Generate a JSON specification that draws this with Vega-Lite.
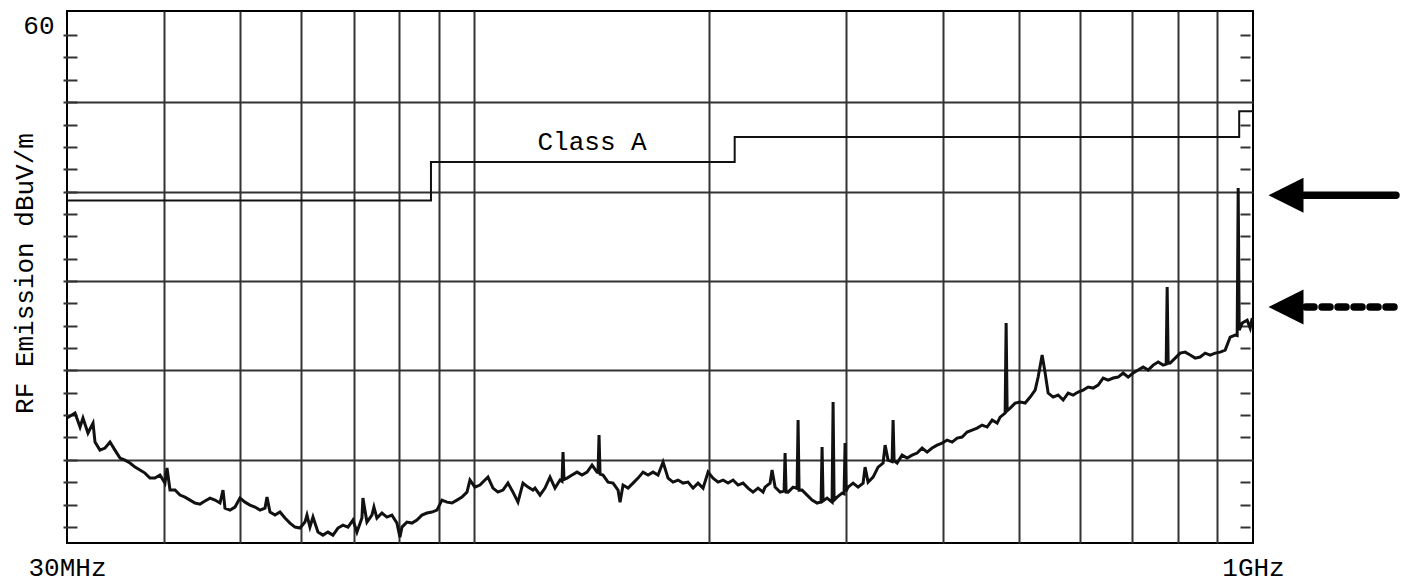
{
  "$schema": "https://vega.github.io/schema/vega-lite/v6.json",
  "width": 1186,
  "height": 532,
  "autosize": "none",
  "padding": {"left": 67, "top": 11, "right": 150, "bottom": 40},
  "background": "white",
  "config": {
    "view": {"stroke": "black", "strokeWidth": 2},
    "font": "Liberation Mono"
  },
  "datasets": {
    "trace": [
      {"f":30.0,"v":14.67},{"f":30.72,"v":15.23},{"f":31.18,"v":13.67},{"f":31.45,"v":14.67},{"f":31.92,"v":13.0},{"f":32.40,"v":14.11},{"f":32.59,"v":11.99},{"f":33.07,"v":11.09},{"f":33.57,"v":11.32},{"f":34.07,"v":11.99},{"f":34.57,"v":11.09},{"f":35.09,"v":10.2},{"f":35.61,"v":9.97},{"f":36.14,"v":9.64},{"f":36.68,"v":9.19},{"f":37.23,"v":8.86},{"f":37.78,"v":8.52},{"f":38.34,"v":7.96},{"f":38.91,"v":7.96},{"f":39.49,"v":8.30},{"f":40.08,"v":7.40},{"f":40.32,"v":9.08},{"f":40.68,"v":6.62},{"f":41.29,"v":6.62},{"f":41.90,"v":6.06},{"f":42.52,"v":5.83},{"f":43.16,"v":5.50},{"f":43.80,"v":5.17},{"f":44.45,"v":5.05},{"f":45.11,"v":5.39},{"f":45.79,"v":5.72},{"f":46.47,"v":5.50},{"f":47.16,"v":5.17},{"f":47.58,"v":6.62},{"f":47.86,"v":4.60},{"f":48.58,"v":4.38},{"f":49.30,"v":4.72},{"f":50.03,"v":5.72},{"f":50.78,"v":5.27},{"f":51.53,"v":4.94},{"f":52.30,"v":4.72},{"f":53.08,"v":4.38},{"f":53.87,"v":4.60},{"f":54.19,"v":5.83},{"f":54.67,"v":4.16},{"f":55.49,"v":3.82},{"f":56.31,"v":4.16},{"f":57.15,"v":3.49},{"f":58.00,"v":2.93},{"f":58.87,"v":2.48},{"f":59.74,"v":2.37},{"f":60.63,"v":3.04},{"f":60.99,"v":3.82},{"f":61.53,"v":2.48},{"f":62.08,"v":3.60},{"f":63.00,"v":1.92},{"f":63.94,"v":1.58},{"f":64.89,"v":1.92},{"f":65.86,"v":1.58},{"f":66.84,"v":2.37},{"f":67.84,"v":2.70},{"f":68.85,"v":2.48},{"f":69.87,"v":3.26},{"f":70.70,"v":1.92},{"f":71.75,"v":3.49},{"f":71.96,"v":5.72},{"f":72.82,"v":3.04},{"f":73.90,"v":3.82},{"f":74.34,"v":4.72},{"f":75.00,"v":3.49},{"f":76.12,"v":4.05},{"f":77.25,"v":3.60},{"f":78.40,"v":3.82},{"f":79.57,"v":2.93},{"f":80.28,"v":1.36},{"f":80.76,"v":2.48},{"f":81.96,"v":3.04},{"f":83.18,"v":2.93},{"f":84.42,"v":3.26},{"f":85.68,"v":3.82},{"f":86.96,"v":4.05},{"f":88.25,"v":4.16},{"f":89.57,"v":4.38},{"f":90.90,"v":5.50},{"f":92.26,"v":5.27},{"f":93.63,"v":5.17},{"f":95.03,"v":5.50},{"f":96.44,"v":5.83},{"f":97.88,"v":6.39},{"f":98.75,"v":7.74},{"f":100.22,"v":6.95},{"f":101.71,"v":7.18},{"f":103.23,"v":7.74},{"f":104.15,"v":8.07},{"f":105.70,"v":6.84},{"f":107.27,"v":6.39},{"f":108.87,"v":6.62},{"f":110.49,"v":7.40},{"f":112.14,"v":6.39},{"f":113.81,"v":5.27},{"f":115.51,"v":7.40},{"f":117.23,"v":6.95},{"f":118.97,"v":6.62},{"f":119.69,"v":6.84},{"f":121.47,"v":6.06},{"f":123.28,"v":6.84},{"f":125.12,"v":8.07},{"f":126.98,"v":6.84},{"f":128.88,"v":7.74},{"f":129.64,"v":7.6},{"f":130.03,"v":10.87},{"f":130.41,"v":7.8},{"f":131.58,"v":7.96},{"f":133.54,"v":8.30},{"f":135.53,"v":8.63},{"f":137.55,"v":8.30},{"f":139.60,"v":8.63},{"f":141.68,"v":9.41},{"f":143.79,"v":8.63},{"f":144.21,"v":8.6},{"f":144.64,"v":12.77},{"f":145.07,"v":8.4},{"f":146.36,"v":8.30},{"f":148.54,"v":7.51},{"f":150.75,"v":7.40},{"f":153.0,"v":6.62},{"f":153.91,"v":5.27},{"f":155.28,"v":7.18},{"f":157.59,"v":6.84},{"f":159.94,"v":7.40},{"f":162.32,"v":7.96},{"f":164.74,"v":8.63},{"f":167.19,"v":8.30},{"f":169.68,"v":8.63},{"f":172.21,"v":8.30},{"f":174.78,"v":9.75},{"f":177.38,"v":7.96},{"f":180.02,"v":7.51},{"f":182.7,"v":7.74},{"f":185.42,"v":7.40},{"f":188.18,"v":7.51},{"f":190.99,"v":6.84},{"f":193.83,"v":7.40},{"f":196.72,"v":6.84},{"f":199.65,"v":8.63},{"f":202.62,"v":7.96},{"f":205.64,"v":7.51},{"f":208.70,"v":7.74},{"f":211.81,"v":7.40},{"f":214.97,"v":7.74},{"f":218.17,"v":7.18},{"f":221.42,"v":7.40},{"f":224.72,"v":6.84},{"f":228.06,"v":6.39},{"f":231.46,"v":6.84},{"f":234.91,"v":6.39},{"f":236.30,"v":6.95},{"f":239.83,"v":7.40},{"f":241.25,"v":8.86},{"f":243.40,"v":6.95},{"f":247.03,"v":6.39},{"f":249.97,"v":6.5},{"f":250.71,"v":10.76},{"f":251.45,"v":6.4},{"f":252.94,"v":6.39},{"f":256.71,"v":6.95},{"f":259.76,"v":6.8},{"f":260.53,"v":14.45},{"f":261.30,"v":6.6},{"f":263.63,"v":6.62},{"f":267.56,"v":6.06},{"f":271.54,"v":5.50},{"f":275.59,"v":5.17},{"f":278.86,"v":5.3},{"f":279.69,"v":11.43},{"f":280.52,"v":5.4},{"f":283.86,"v":5.72},{"f":288.09,"v":5.27},{"f":288.94,"v":16.46},{"f":289.80,"v":5.5},{"f":292.38,"v":5.83},{"f":296.73,"v":6.28},{"f":298.49,"v":6.2},{"f":299.37,"v":11.87},{"f":300.26,"v":6.5},{"f":302.04,"v":6.95},{"f":306.54,"v":7.40},{"f":311.11,"v":6.95},{"f":315.74,"v":7.40},{"f":317.61,"v":9.19},{"f":320.44,"v":7.51},{"f":325.22,"v":8.07},{"f":330.06,"v":9.19},{"f":334.98,"v":9.64},{"f":336.97,"v":11.65},{"f":339.97,"v":9.97},{"f":344.02,"v":9.8},{"f":345.04,"v":14.45},{"f":346.06,"v":9.9},{"f":349.15,"v":9.64},{"f":354.35,"v":10.53},{"f":359.63,"v":10.20},{"f":364.99,"v":10.53},{"f":370.43,"v":10.76},{"f":375.95,"v":11.32},{"f":381.55,"v":10.87},{"f":387.23,"v":11.32},{"f":393.0,"v":11.65},{"f":398.86,"v":11.87},{"f":404.8,"v":12.21},{"f":410.83,"v":11.99},{"f":416.95,"v":12.44},{"f":423.16,"v":12.55},{"f":429.46,"v":13.11},{"f":435.86,"v":13.33},{"f":442.35,"v":13.55},{"f":448.94,"v":13.89},{"f":455.63,"v":13.67},{"f":462.42,"v":14.45},{"f":469.31,"v":14.11},{"f":473.49,"v":14.78},{"f":480.54,"v":15.23},{"f":481.96,"v":25.30},{"f":483.39,"v":15.5},{"f":487.70,"v":15.79},{"f":494.96,"v":16.35},{"f":502.34,"v":16.46},{"f":509.82,"v":16.35},{"f":517.41,"v":17.02},{"f":525.12,"v":17.80},{"f":529.80,"v":19.26},{"f":536.10,"v":21.72},{"f":540.88,"v":19.71},{"f":545.70,"v":17.47},{"f":553.83,"v":17.02},{"f":562.08,"v":17.25},{"f":570.45,"v":16.69},{"f":578.95,"v":17.47},{"f":587.57,"v":17.25},{"f":596.33,"v":17.58},{"f":605.21,"v":17.80},{"f":614.23,"v":18.14},{"f":623.38,"v":18.03},{"f":632.66,"v":18.36},{"f":642.09,"v":19.15},{"f":651.65,"v":18.92},{"f":661.36,"v":19.15},{"f":671.21,"v":19.26},{"f":681.21,"v":19.71},{"f":691.36,"v":19.26},{"f":701.66,"v":19.71},{"f":712.11,"v":20.04},{"f":722.72,"v":20.38},{"f":733.48,"v":20.04},{"f":744.41,"v":20.60},{"f":755.5,"v":20.94},{"f":766.75,"v":20.60},{"f":773.58,"v":20.7},{"f":775.87,"v":29.33},{"f":778.17,"v":20.8},{"f":782.78,"v":20.82},{"f":794.44,"v":21.38},{"f":806.28,"v":21.94},{"f":818.29,"v":22.05},{"f":830.48,"v":21.72},{"f":842.85,"v":21.38},{"f":855.4,"v":21.50},{"f":868.14,"v":21.94},{"f":881.08,"v":21.72},{"f":894.2,"v":21.94},{"f":907.52,"v":22.05},{"f":921.04,"v":22.28},{"f":934.76,"v":23.73},{"f":948.68,"v":23.96},{"f":954.3,"v":23.9},{"f":957.13,"v":40.40},{"f":960.0,"v":24.5},{"f":968.52,"v":25.30},{"f":982.95,"v":25.63},{"f":991.71,"v":24.74},{"f":997.6,"v":25.86}
    ],
    "limit": [
      {"f":30,"v":39.0},{"f":88,"v":43.3},{"f":216,"v":46.1},{"f":960,"v":49.0},{"f":1000,"v":49.0}
    ],
    "label": [
      {"f":141.7,"v":45.55,"text":"Class A"}
    ],
    "arrows": [
      {"head":1102.5,"f":1149,"f2":1526,"v":39.6,"style":"solid"},
      {"head":1102.5,"f":1169.6,"f2":1530,"v":27.1,"style":"dashed"}
    ]
  },
  "resolve": {"axis": {"y": "independent"}},
  "layer": [
    {
      "data": {"name": "trace"},
      "mark": {"type": "line", "color": "#111111", "strokeWidth": 3, "strokeJoin": "miter"},
      "encoding": {
        "x": {
          "field": "f", "type": "quantitative", "title": null,
          "scale": {"type": "log", "domain": [30, 1000], "nice": false},
          "axis": {
            "values": [30,40,50,60,70,80,90,100,200,300,400,500,600,700,800,900,1000],
            "labelExpr": "datum.value == 30 ? '30MHz' : (datum.value == 1000 ? '1GHz' : '')",
            "labelFlush": false, "labelOverlap": false,
            "labelFont": "Liberation Mono", "labelFontSize": 26, "labelColor": "black",
            "labelBaseline": "alphabetic", "labelPadding": 32,
            "ticks": false, "tickSize": 0, "domain": false,
            "grid": true, "gridColor": "#333333", "gridWidth": 2,
            "gridOpacity": {"condition": {"test": "datum.value == 30 || datum.value == 1000", "value": 0}, "value": 1}
          }
        },
        "y": {
          "field": "v", "type": "quantitative",
          "scale": {"domain": [0.7, 60.2], "nice": false, "zero": false},
          "axis": {
            "orient": "left",
            "values": [2.5,5,7.5,10,12.5,15,17.5,20,22.5,25,27.5,30,32.5,35,37.5,40,42.5,45,47.5,50,52.5,55,57.5,60],
            "labelExpr": "datum.value == 60 ? '60' : ''",
            "labelFont": "Liberation Mono", "labelFontSize": 26, "labelColor": "black",
            "labelBaseline": "top", "labelPadding": 9, "labelOverlap": false,
            "domain": false, "offset": -10,
            "ticks": true, "tickSize": 14, "tickWidth": 2, "tickColor": "#333333",
            "tickOpacity": {"condition": {"test": "datum.value == 60", "value": 0}, "value": 1},
            "grid": true, "gridColor": "#333333", "gridWidth": 2,
            "gridOpacity": {"condition": {"test": "datum.value % 10 == 0 && datum.value < 60", "value": 1}, "value": 0},
            "title": "RF Emission dBuV/m",
            "titleFont": "Liberation Mono", "titleFontSize": 26, "titleFontWeight": "normal", "titleColor": "black",
            "titleAngle": -90, "titleBaseline": "alphabetic", "titleAlign": "center",
            "titleX": -45, "titleY": 262
          }
        }
      }
    },
    {
      "data": {"name": "limit"},
      "mark": {"type": "line", "interpolate": "step-after", "color": "#111111", "strokeWidth": 2},
      "encoding": {
        "x": {"field": "f", "type": "quantitative", "title": null},
        "y": {
          "field": "v", "type": "quantitative",
          "axis": {
            "orient": "right",
            "values": [2.5,5,7.5,12.5,15,17.5,22.5,25,27.5,32.5,35,37.5,42.5,45,47.5,52.5,55,57.5],
            "labels": false, "domain": false, "grid": false, "title": null,
            "offset": -13, "ticks": true, "tickSize": 10, "tickWidth": 2, "tickColor": "#333333"
          }
        }
      }
    },
    {
      "data": {"name": "label"},
      "mark": {"type": "text", "font": "Liberation Mono", "fontSize": 26, "color": "black", "align": "center", "baseline": "middle"},
      "encoding": {
        "x": {"field": "f", "type": "quantitative", "title": null},
        "y": {"field": "v", "type": "quantitative", "axis": null},
        "text": {"field": "text"}
      }
    },
    {
      "data": {"name": "arrows"},
      "mark": {"type": "rule", "strokeWidth": 7.5, "strokeCap": "round", "color": "black"},
      "encoding": {
        "x": {"field": "f", "type": "quantitative", "title": null},
        "x2": {"field": "f2"},
        "y": {"field": "v", "type": "quantitative", "axis": null},
        "strokeDash": {"field": "style", "type": "nominal", "legend": null,
          "scale": {"domain": ["solid", "dashed"], "range": [[1, 0], [8, 8]]}}
      }
    },
    {
      "data": {"name": "arrows"},
      "mark": {"type": "point", "shape": "M-1,0L1,-1L1,1Z", "filled": true, "color": "black", "opacity": 1, "size": 1225},
      "encoding": {
        "x": {"field": "head", "type": "quantitative", "title": null},
        "y": {"field": "v", "type": "quantitative", "axis": null}
      }
    }
  ]
}
